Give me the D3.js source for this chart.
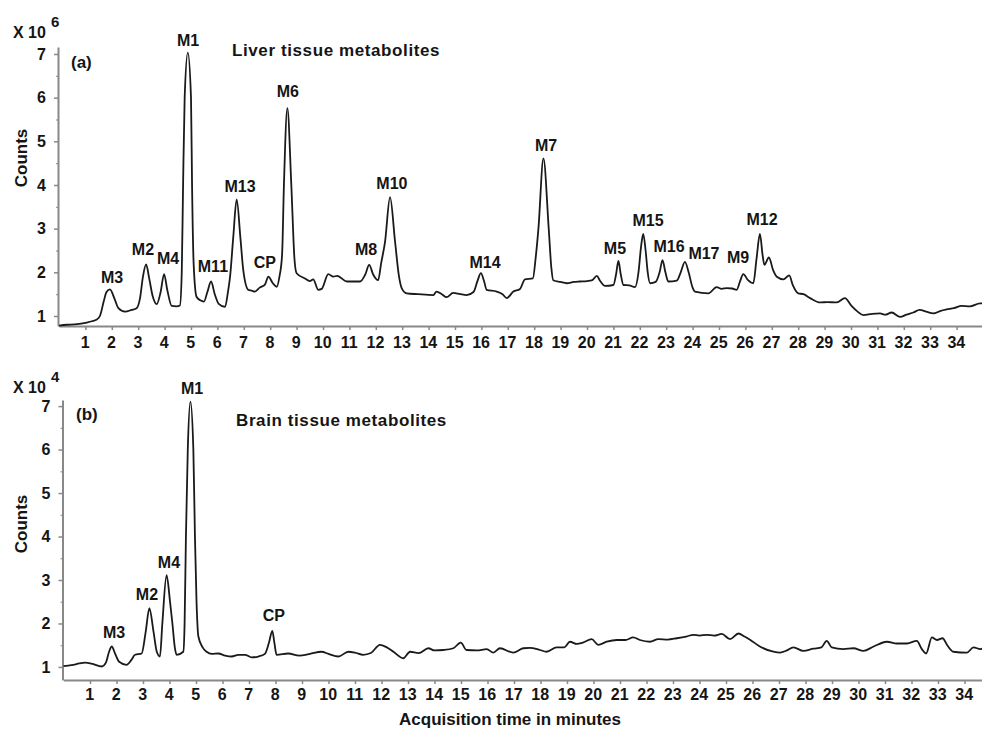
<!DOCTYPE html>
<html>
<head>
<meta charset="utf-8">
<script src="https://cdnjs.cloudflare.com/ajax/libs/d3/7.8.5/d3.min.js"></script>
<style>
    body { margin: 0; background: #fff; }
    text { font-family: Arial, "Liberation Sans", sans-serif; font-weight: bold; fill: #151515; }
</style>
</head>
<body>
<svg id="chart" width="982" height="729"></svg>
<script>

// Data Model
// time in minutes, counts (x 10^6 for liver, x 10^4 for brain)
var liverTrace = [
    [0.00, 0.78], [0.30, 0.80], [0.60, 0.81], [1.05, 0.85], [1.25, 0.88], [1.43, 0.92],
    [1.55, 1.00], [1.70, 1.35], [1.80, 1.55], [1.93, 1.61], [2.10, 1.40], [2.25, 1.18],
    [2.50, 1.10], [2.75, 1.14], [2.94, 1.18], [3.07, 1.41], [3.18, 1.90], [3.30, 2.18],
    [3.42, 1.85], [3.55, 1.45], [3.70, 1.27], [3.85, 1.55], [3.98, 1.96], [4.10, 1.60],
    [4.27, 1.23], [4.45, 1.22], [4.58, 1.24], [4.65, 2.00], [4.70, 4.00], [4.76, 6.00],
    [4.88, 7.03], [5.00, 6.00], [5.04, 4.00], [5.10, 2.20], [5.21, 1.44], [5.35, 1.36],
    [5.49, 1.33], [5.62, 1.55], [5.76, 1.79], [5.90, 1.50], [6.05, 1.28], [6.29, 1.21],
    [6.40, 1.55], [6.48, 1.90], [6.60, 2.80], [6.73, 3.67], [6.87, 2.80], [6.98, 2.05],
    [7.17, 1.60], [7.30, 1.58], [7.42, 1.56], [7.60, 1.65], [7.80, 1.72], [7.93, 1.90],
    [8.10, 1.75], [8.25, 1.67], [8.35, 1.90], [8.45, 2.40], [8.52, 4.00], [8.65, 5.76],
    [8.80, 4.00], [8.92, 2.30], [9.00, 1.98], [9.32, 1.86], [9.50, 1.80], [9.63, 1.84],
    [9.82, 1.60], [9.95, 1.62], [10.20, 1.96], [10.39, 1.90], [10.54, 1.92], [10.90, 1.79],
    [11.40, 1.79], [11.60, 1.95], [11.75, 2.17], [11.90, 1.95], [12.09, 1.82], [12.20, 2.20],
    [12.35, 2.70], [12.54, 3.72], [12.73, 2.70], [12.88, 1.90], [12.98, 1.64], [13.17, 1.52],
    [13.60, 1.50], [14.18, 1.48], [14.30, 1.56], [14.50, 1.50], [14.68, 1.43], [14.93, 1.53],
    [15.20, 1.50], [15.44, 1.48], [15.70, 1.55], [15.85, 1.80], [15.98, 1.98], [16.10, 1.80],
    [16.20, 1.60], [16.58, 1.56], [16.80, 1.50], [16.96, 1.41], [17.21, 1.56], [17.46, 1.62],
    [17.65, 1.84], [17.95, 1.86], [18.05, 2.30], [18.16, 3.00], [18.35, 4.61], [18.55, 3.00],
    [18.65, 2.10], [18.72, 1.82], [19.00, 1.78], [19.23, 1.75], [19.50, 1.78], [19.73, 1.79],
    [20.00, 1.80], [20.20, 1.82], [20.37, 1.92], [20.50, 1.80], [20.68, 1.69], [21.00, 1.71],
    [21.10, 1.95], [21.19, 2.26], [21.28, 1.95], [21.38, 1.71], [21.60, 1.70], [21.82, 1.66],
    [21.95, 2.00], [22.05, 2.60], [22.13, 2.88], [22.22, 2.50], [22.30, 2.00], [22.39, 1.75],
    [22.60, 1.78], [22.75, 2.00], [22.86, 2.28], [22.97, 2.00], [23.08, 1.79], [23.40, 1.81],
    [23.55, 2.00], [23.71, 2.24], [23.85, 2.00], [24.00, 1.65], [24.09, 1.56], [24.60, 1.52],
    [24.91, 1.66], [25.10, 1.62], [25.30, 1.64], [25.50, 1.63], [25.67, 1.60], [25.80, 1.80],
    [25.92, 1.96], [26.10, 1.82], [26.30, 1.75], [26.42, 2.30], [26.55, 2.88], [26.65, 2.40],
    [26.72, 2.17], [26.89, 2.34], [27.05, 2.05], [27.19, 1.90], [27.44, 1.84], [27.66, 1.93],
    [27.80, 1.70], [28.00, 1.52], [28.20, 1.50], [28.45, 1.41], [28.83, 1.31], [29.10, 1.32],
    [29.46, 1.31], [29.77, 1.41], [30.02, 1.23], [30.25, 1.10], [30.47, 1.02], [30.80, 1.05],
    [31.10, 1.06], [31.30, 1.03], [31.54, 1.08], [31.86, 0.98], [32.10, 1.03], [32.36, 1.08],
    [32.60, 1.14], [32.85, 1.10], [33.12, 1.06], [33.40, 1.12], [33.62, 1.15], [33.90, 1.18],
    [34.19, 1.23], [34.50, 1.22], [34.89, 1.29], [35.00, 1.29]
];

var brainTrace = [
    [0.00, 1.02], [0.30, 1.04], [0.60, 1.08], [0.81, 1.10], [1.10, 1.07], [1.44, 1.01],
    [1.60, 1.10], [1.72, 1.35], [1.82, 1.47], [1.95, 1.30], [2.10, 1.12], [2.38, 1.05],
    [2.55, 1.15], [2.70, 1.28], [2.95, 1.31], [3.10, 1.80], [3.24, 2.35], [3.40, 1.80],
    [3.52, 1.35], [3.64, 1.24], [3.73, 2.00], [3.89, 3.11], [4.02, 2.50], [4.11, 2.00],
    [4.20, 1.45], [4.27, 1.28], [4.52, 1.35], [4.57, 2.00], [4.62, 4.00], [4.69, 6.00],
    [4.79, 7.10], [4.90, 6.00], [4.96, 4.00], [5.02, 2.50], [5.09, 1.70], [5.25, 1.45],
    [5.40, 1.35], [5.60, 1.30], [5.84, 1.31], [6.10, 1.26], [6.35, 1.24], [6.60, 1.28],
    [6.85, 1.28], [7.10, 1.22], [7.35, 1.24], [7.60, 1.30], [7.75, 1.55], [7.88, 1.83],
    [7.96, 1.55], [8.04, 1.28], [8.48, 1.31], [8.90, 1.26], [9.30, 1.30], [9.74, 1.35],
    [10.00, 1.30], [10.37, 1.24], [10.75, 1.35], [11.00, 1.33], [11.31, 1.28], [11.60, 1.32],
    [11.94, 1.51], [12.20, 1.45], [12.45, 1.35], [12.82, 1.20], [13.08, 1.35], [13.40, 1.32],
    [13.77, 1.43], [14.00, 1.38], [14.33, 1.39], [14.71, 1.43], [14.99, 1.56], [15.21, 1.39],
    [15.60, 1.38], [15.97, 1.41], [16.22, 1.33], [16.47, 1.43], [16.97, 1.33], [17.35, 1.43],
    [17.60, 1.44], [17.98, 1.39], [18.23, 1.35], [18.61, 1.45], [18.90, 1.45], [19.11, 1.58],
    [19.37, 1.53], [19.60, 1.56], [19.93, 1.64], [20.18, 1.51], [20.50, 1.58], [20.88, 1.62],
    [21.20, 1.62], [21.50, 1.68], [21.75, 1.62], [22.13, 1.58], [22.45, 1.64], [22.80, 1.63],
    [23.14, 1.66], [23.50, 1.70], [23.77, 1.74], [24.00, 1.72], [24.27, 1.74], [24.55, 1.72],
    [24.84, 1.76], [25.15, 1.64], [25.47, 1.77], [25.70, 1.70], [25.92, 1.62], [26.28, 1.47],
    [26.79, 1.35], [27.04, 1.33], [27.30, 1.38], [27.54, 1.45], [27.92, 1.37], [28.30, 1.42],
    [28.60, 1.45], [28.80, 1.60], [28.99, 1.45], [29.43, 1.41], [29.81, 1.43], [30.19, 1.37],
    [30.57, 1.47], [31.07, 1.58], [31.45, 1.54], [31.83, 1.54], [32.20, 1.60], [32.39, 1.41],
    [32.55, 1.31], [32.77, 1.68], [32.96, 1.62], [33.17, 1.66], [33.35, 1.50], [33.58, 1.35],
    [34.09, 1.33], [34.34, 1.45], [34.60, 1.41], [34.70, 1.43]
];

// peak labels: name, time, counts where the label sits
var liverNames = ["M1", "M3", "M2", "M4", "M11", "M13", "CP", "M6", "M8", "M10", "M14", "M7", "M5", "M15", "M16", "M17", "M9", "M12"];
var liverLabelT = [4.89, 2.01, 3.18, 4.13, 5.83, 6.86, 7.80, 8.67, 11.63, 12.61, 16.14, 18.45, 21.06, 22.31, 23.11, 24.43, 25.72, 26.63];
var liverLabelV = [7.32, 1.89, 2.53, 2.33, 2.14, 3.98, 2.24, 6.15, 2.53, 4.05, 2.24, 4.92, 2.56, 3.20, 2.60, 2.44, 2.35, 3.22];

var brainNames = ["M1", "M3", "M2", "M4", "CP"];
var brainLabelT = [4.85, 1.91, 3.15, 3.98, 7.94];
var brainLabelV = [7.41, 1.80, 2.68, 3.41, 2.20];

// Axis ticks
var xTicks = [1, 2, 3, 4, 5, 6, 7, 8, 9, 10, 11, 12, 13, 14, 15, 16, 17, 18, 19, 20, 21, 22, 23, 24, 25, 26, 27, 28, 29, 30, 31, 32, 33, 34];
var yTicks = [1, 2, 3, 4, 5, 6, 7];
var yMinorTicks = [1.5, 2.5, 3.5, 4.5, 5.5, 6.5];

var svg = d3.select("#chart");

svg.append("rect")
    .attr("width", 982)
    .attr("height", 729)
    .attr("fill", "#fff");

function drawPanel(opt) {

    var x = d3.scaleLinear().domain([0, 35]).range(opt.xRange);
    var y = d3.scaleLinear().domain(opt.yDomain).range(opt.yRange);

    var g = svg.append("g").attr("class", "panel");

    // minor y ticks
    g.append("g")
        .attr("transform", "translate(" + opt.xRange[0] + ",0)")
        .call(d3.axisLeft(y).tickValues(yMinorTicks).tickSize(3).tickFormat(""))
        .call(function(a) {
            a.select(".domain").remove();
            a.selectAll("line").attr("stroke", "#999").attr("stroke-width", 1.2);
        });

    // y axis
    var yAxis = g.append("g")
        .attr("transform", "translate(" + (opt.xRange[0] - 1) + ",0)")
        .call(d3.axisLeft(y).tickValues(yTicks).tickSize(4).tickSizeOuter(0).tickPadding(8)
            .tickFormat(d3.format("d")));

    // x axis
    var xAxis = g.append("g")
        .attr("transform", "translate(0," + opt.yRange[0] + ")")
        .call(d3.axisBottom(x).tickValues(xTicks).tickSize(4).tickSizeOuter(0).tickPadding(opt.xPad)
            .tickFormat(d3.format("d")));

    [yAxis, xAxis].forEach(function(a) {
        a.select(".domain").attr("stroke", "#888").attr("stroke-width", 2);
        a.selectAll(".tick line").attr("stroke", "#888").attr("stroke-width", 1.5);
        a.selectAll(".tick text")
            .style("font-size", "16px")
            .style("font-family", "Arial, 'Liberation Sans', sans-serif")
            .style("font-weight", "bold")
            .attr("fill", "#151515");
    });
    xAxis.selectAll(".tick text").attr("dx", "-0.05em");

    // trace
    var line = d3.line()
        .x(function(d) { return x(d[0]); })
        .y(function(d) { return y(d[1]); })
        .curve(d3.curveMonotoneX);

    g.append("path")
        .datum(opt.trace)
        .attr("fill", "none")
        .attr("stroke", "#1a1a1a")
        .attr("stroke-width", 1.8)
        .attr("stroke-linejoin", "round")
        .attr("d", line);

    // peak labels
    g.selectAll(".peak")
        .data(opt.names)
        .enter()
        .append("text")
        .attr("class", "peak")
        .attr("x", function(d, i) { return x(opt.labelT[i]); })
        .attr("y", function(d, i) { return y(opt.labelV[i]); })
        .attr("dy", "0.36em")
        .attr("text-anchor", "middle")
        .style("font-size", "16px")
        .text(function(d) { return d; });

    // exponent
    g.append("text")
        .attr("x", 13)
        .attr("y", opt.expY)
        .style("font-size", "16px")
        .text("X 10");
    g.append("text")
        .attr("x", 51)
        .attr("y", opt.expY - 11)
        .style("font-size", "15px")
        .text(opt.exponent);

    // Counts
    g.append("text")
        .attr("transform", "translate(27," + opt.countsY + ") rotate(-90)")
        .attr("text-anchor", "middle")
        .style("font-size", "17px")
        .text("Counts");

    // panel letter and title
    g.append("text")
        .attr("x", opt.letterX)
        .attr("y", opt.letterY)
        .style("font-size", "17px")
        .text(opt.letter);

    g.append("text")
        .attr("x", opt.titleX)
        .attr("y", opt.titleY)
        .style("font-size", "17px")
        .style("letter-spacing", "0.6px")
        .text(opt.title);
}

drawPanel({
    trace: liverTrace,
    names: liverNames, labelT: liverLabelT, labelV: liverLabelV,
    xRange: [59, 983], yDomain: [0.771, 7.16], yRange: [326, 47], xPad: 7,
    exponent: "6", expY: 38, countsY: 158,
    letter: "(a)", letterX: 71, letterY: 68,
    title: "Liver tissue metabolites", titleX: 232, titleY: 56
});

drawPanel({
    trace: brainTrace,
    names: brainNames, labelT: brainLabelT, labelV: brainLabelV,
    xRange: [63.5, 991], yDomain: [0.70, 7.14], yRange: [680, 400], xPad: 5,
    exponent: "4", expY: 393, countsY: 524,
    letter: "(b)", letterX: 76, letterY: 420,
    title: "Brain tissue metabolites", titleX: 236, titleY: 426
});

// x axis title
svg.append("text")
    .attr("x", 510)
    .attr("y", 725)
    .attr("text-anchor", "middle")
    .style("font-size", "17px")
    .text("Acquisition time in minutes");

</script>
</body>
</html>
